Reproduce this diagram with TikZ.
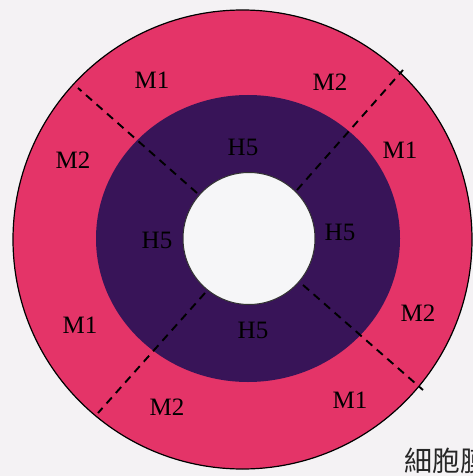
\documentclass[tikz,border=0pt]{standalone}
\usepackage{fontspec}
\setmainfont{Liberation Serif}
\newfontfamily\cjk{Noto Sans CJK TC}
\definecolor{bgc}{RGB}{244,242,244}
\definecolor{pinkc}{RGB}{228,52,104}
\definecolor{darkc}{RGB}{56,20,88}
\definecolor{holec}{RGB}{246,246,248}
\tikzset{
  lbl/.style={font=\fontsize{25}{25}\selectfont, text=black, inner sep=0pt},
  divider/.style={draw=black, line width=1.9pt, dash pattern=on 8pt off 6pt},
}
\begin{document}
\begin{tikzpicture}[x=1pt,y=-1pt]
\useasboundingbox (0,0) rectangle (473,476);
\clip (0,0) rectangle (473,476);
\fill[bgc] (0,0) rectangle (473,476);
% rings
\filldraw[fill=pinkc, draw=black, line width=1.2pt] (242.5,239.5) circle [radius=229.5];
\fill[darkc] (248,238.5) ellipse [x radius=152, y radius=143.5];
\filldraw[fill=holec, draw=black!80, line width=1pt] (249,238.5) circle [radius=66];
% dividers
\coordinate (ulo) at (78,88);   \coordinate (uli) at (197,193);
\coordinate (uro) at (403,70);  \coordinate (uri) at (297,190);
\coordinate (llo) at (98,413);  \coordinate (lli) at (205,293);
\coordinate (lro) at (423,390); \coordinate (lri) at (303,285);
\draw[divider] (uli) -- (ulo);
\draw[divider] (uri) -- (uro);
\draw[divider] (lli) -- (llo);
\draw[divider] (lri) -- (lro);
% outer labels
\node[lbl] (m1a) at (152,80) {M1};
\node[lbl] (m2a) at (330,82) {M2};
\node[lbl] (m1b) at (400,150) {M1};
\node[lbl] (m2b) at (73,160) {M2};
\node[lbl] (m1c) at (80,325) {M1};
\node[lbl] (m2c) at (418,313) {M2};
\node[lbl] (m2d) at (167,407) {M2};
\node[lbl] (m1d) at (350,400) {M1};
% inner labels
\node[lbl] (h5a) at (243,147) {H5};
\node[lbl] (h5b) at (157,240) {H5};
\node[lbl] (h5c) at (340,232) {H5};
\node[lbl] (h5d) at (253,330) {H5};
% caption
\node[anchor=base west, inner sep=0pt, font=\cjk\fontsize{28}{28}\selectfont, text=black!85] (cap) at (404,471) {細胞膜};
\end{tikzpicture}
\end{document}
